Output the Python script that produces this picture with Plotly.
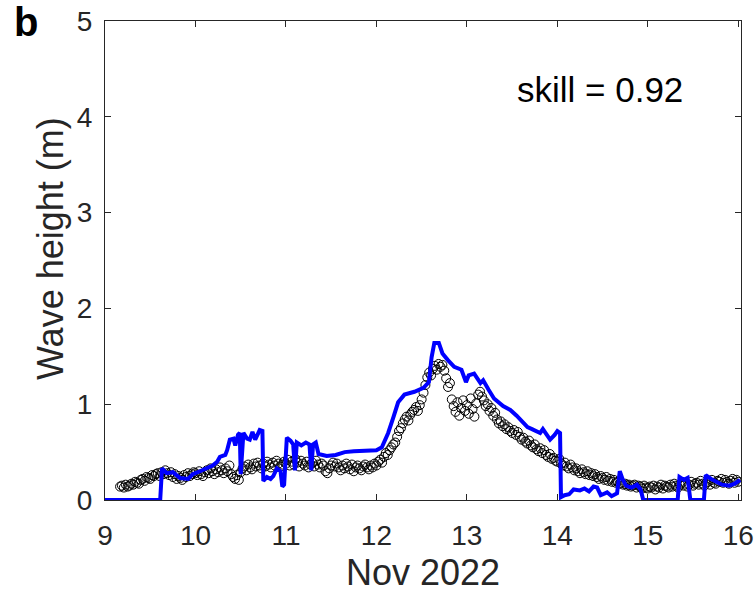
import numpy as np
import plotly.graph_objects as go

# Observed significant wave height (m), half-hourly from 9 Nov 04:00 to 16 Nov 00:00
obs_hs_nov09 = [0.14, 0.15, 0.13, 0.16, 0.14, 0.15, 0.17, 0.16, 0.19, 0.18,
                0.17, 0.21, 0.22, 0.20, 0.24, 0.23, 0.22, 0.26, 0.25, 0.27,
                0.28, 0.25, 0.29, 0.27, 0.31, 0.28, 0.26, 0.29, 0.24, 0.27,
                0.22, 0.25, 0.23, 0.21, 0.26, 0.24, 0.28, 0.25, 0.27, 0.29]
obs_hs_nov10 = [0.28, 0.26, 0.30, 0.27, 0.25, 0.29, 0.31, 0.28, 0.33, 0.30, 0.27, 0.32,
                0.29, 0.34, 0.31, 0.28, 0.33, 0.30, 0.36, 0.27, 0.24, 0.22, 0.26, 0.21,
                0.29, 0.33, 0.35, 0.31, 0.37, 0.34, 0.32, 0.38, 0.35, 0.39, 0.36, 0.33,
                0.38, 0.35, 0.40, 0.37, 0.34, 0.39, 0.36, 0.41, 0.38, 0.35, 0.37, 0.40]
obs_hs_nov11 = [0.38, 0.42, 0.36, 0.40, 0.37, 0.43, 0.39, 0.35, 0.41, 0.38, 0.36, 0.40,
                0.34, 0.37, 0.39, 0.35, 0.41, 0.37, 0.34, 0.38, 0.36, 0.30, 0.28, 0.33,
                0.36, 0.39, 0.35, 0.38, 0.34, 0.31, 0.36, 0.33, 0.38, 0.35, 0.32, 0.37,
                0.30, 0.34, 0.36, 0.33, 0.31, 0.35, 0.37, 0.34, 0.32, 0.36, 0.34, 0.38]
obs_hs_nov12 = [0.36, 0.40, 0.42, 0.39, 0.45, 0.49, 0.47, 0.52, 0.55, 0.58, 0.60, 0.66,
                0.72, 0.75, 0.80, 0.84, 0.87, 0.83, 0.89, 0.92, 0.94, 0.97, 0.93, 0.99,
                1.05, 1.12, 1.20, 1.28, 1.33, 1.30, 1.37, 1.40, 1.36, 1.42, 1.39, 1.41,
                1.35, 1.27, 1.18, 1.22, 1.05, 0.98, 0.92, 1.02, 0.88, 0.96, 1.04, 0.93]
obs_hs_nov13 = [0.99, 0.90, 1.06, 0.95, 0.87, 1.01, 1.10, 1.13, 1.08, 1.04, 0.98, 1.00,
                0.93, 0.96, 0.88, 0.91, 0.84, 0.80, 0.82, 0.77, 0.79, 0.74, 0.76, 0.72,
                0.70, 0.73, 0.68, 0.71, 0.66, 0.63, 0.65, 0.61, 0.59, 0.62, 0.57, 0.55,
                0.58, 0.53, 0.51, 0.54, 0.49, 0.52, 0.47, 0.45, 0.48, 0.43, 0.44, 0.41]
obs_hs_nov14 = [0.40, 0.43, 0.38, 0.36, 0.39, 0.35, 0.33, 0.37, 0.34, 0.31, 0.33, 0.30,
                0.28, 0.32, 0.29, 0.27, 0.30, 0.26, 0.28, 0.25, 0.27, 0.24, 0.22, 0.25,
                0.23, 0.21, 0.24, 0.20, 0.22, 0.19, 0.21, 0.18, 0.19, 0.17, 0.18, 0.16,
                0.17, 0.15, 0.16, 0.14, 0.15, 0.16, 0.13, 0.15, 0.14, 0.12, 0.15, 0.13]
obs_hs_nov15 = [0.12, 0.14, 0.13, 0.15, 0.11, 0.14, 0.13, 0.16, 0.12, 0.15, 0.14, 0.13,
                0.16, 0.14, 0.17, 0.15, 0.13, 0.16, 0.18, 0.15, 0.17, 0.14, 0.16, 0.19,
                0.15, 0.17, 0.18, 0.16, 0.20, 0.17, 0.15, 0.18, 0.19, 0.16, 0.21, 0.18,
                0.17, 0.20, 0.19, 0.22, 0.18, 0.21, 0.19, 0.17, 0.20, 0.22, 0.18, 0.21]
obs_hs_nov16 = [0.19]

obs_hs = (obs_hs_nov09 + obs_hs_nov10 + obs_hs_nov11 + obs_hs_nov12 +
          obs_hs_nov13 + obs_hs_nov14 + obs_hs_nov15 + obs_hs_nov16)
obs_day = 9 + 4 / 24 + np.arange(len(obs_hs)) / 48  # day of November 2022

# Modelled significant wave height (m) at output times (day of November 2022)
model_day = [9.00, 9.61, 9.63, 9.68, 9.75, 9.83, 9.92, 9.97, 10.05, 10.12,
             10.19, 10.24, 10.27, 10.33, 10.35, 10.38, 10.42, 10.44, 10.47, 10.49,
             10.50, 10.53, 10.57, 10.60, 10.63, 10.66, 10.71, 10.74, 10.75, 10.79,
             10.83, 10.86, 10.90, 10.94, 10.96, 10.98, 11.01, 11.05, 11.08, 11.10,
             11.12, 11.17, 11.22, 11.26, 11.28, 11.30, 11.33, 11.36, 11.45, 11.55,
             11.65, 11.75, 11.85, 11.95, 12.00, 12.06, 12.13, 12.19, 12.24, 12.31,
             12.42, 12.52, 12.58, 12.61, 12.64, 12.69, 12.73, 12.79, 12.86, 12.94,
             12.99, 13.02, 13.08, 13.15, 13.18, 13.24, 13.30, 13.40, 13.48, 13.55,
             13.59, 13.67, 13.72, 13.77, 13.81, 13.84, 13.92, 13.97, 14.00, 14.03,
             14.04, 14.08, 14.13, 14.18, 14.25, 14.30, 14.35, 14.40, 14.44, 14.48,
             14.55, 14.60, 14.66, 14.69, 14.72, 14.76, 14.82, 14.88, 14.92, 14.95,
             15.00, 15.33, 15.35, 15.40, 15.44, 15.47, 15.62, 15.64, 15.70, 15.76,
             15.82, 15.90, 15.96, 16.02]
model_hs = [0.00, 0.00, 0.33, 0.28, 0.29, 0.23, 0.22, 0.27, 0.30, 0.33,
            0.36, 0.40, 0.45, 0.47, 0.52, 0.63, 0.64, 0.57, 0.68, 0.70,
            0.27, 0.70, 0.64, 0.63, 0.71, 0.63, 0.73, 0.72, 0.20, 0.24,
            0.22, 0.25, 0.33, 0.30, 0.14, 0.16, 0.65, 0.62, 0.58, 0.31,
            0.60, 0.57, 0.60, 0.58, 0.31, 0.58, 0.60, 0.48, 0.46, 0.47,
            0.50, 0.51, 0.51, 0.51, 0.52, 0.55, 0.70, 0.87, 1.02, 1.10,
            1.13, 1.17, 1.23, 1.49, 1.64, 1.64, 1.53, 1.46, 1.39, 1.36,
            1.23, 1.30, 1.32, 1.22, 1.25, 1.15, 1.06, 0.98, 0.94, 0.88,
            0.84, 0.76, 0.74, 0.72, 0.70, 0.74, 0.63, 0.68, 0.72, 0.70,
            0.03, 0.05, 0.06, 0.11, 0.10, 0.12, 0.09, 0.14, 0.13, 0.05,
            0.08, 0.04, 0.07, 0.30, 0.22, 0.15, 0.13, 0.16, 0.11, 0.00,
            0.00, 0.00, 0.24, 0.21, 0.23, 0.00, 0.00, 0.26, 0.22, 0.19,
            0.16, 0.15, 0.17, 0.21]

day_ticks = [9, 10, 11, 12, 13, 14, 15, 16]
hs_ticks = [0, 1, 2, 3, 4, 5]
skill = 0.92

AXIS_COLOR = "#262626"
FONT = "Liberation Sans, Arial, Helvetica, sans-serif"

fig = go.Figure()
fig.add_trace(go.Scatter(
    x=obs_day, y=obs_hs, mode="markers", name="observed",
    marker=dict(symbol="circle-open", size=9, color="black", line=dict(width=1)),
))
fig.add_trace(go.Scatter(
    x=model_day, y=model_hs, mode="lines", name="model",
    line=dict(color="#0000FF", width=4),
))

axis_common = dict(
    showline=True, linecolor=AXIS_COLOR, linewidth=1, mirror="ticks",
    ticks="inside", ticklen=6, tickwidth=1, tickcolor=AXIS_COLOR,
    showgrid=False, zeroline=False, automargin=False,
    tickfont=dict(family=FONT, size=28, color=AXIS_COLOR),
)

fig.update_layout(
    width=755, height=593,
    margin=dict(l=105, r=14, t=21, b=93),
    paper_bgcolor="white", plot_bgcolor="white",
    showlegend=False,
    xaxis=dict(
        range=[9, 16.03], tickvals=day_ticks, ticktext=[str(d) for d in day_ticks],
        ticklabelstandoff=10,
        title=dict(text="Nov 2022", font=dict(family=FONT, size=36, color=AXIS_COLOR), standoff=17),
        **axis_common,
    ),
    yaxis=dict(
        range=[0, 5], tickvals=hs_ticks,
        ticklabelstandoff=6,
        **axis_common,
    ),
    annotations=[
        # y-axis label, centred slightly above the middle of the axis
        dict(text="Wave height (m)", xref="paper", yref="paper",
             x=-0.0865, y=0.526, xanchor="center", yanchor="middle", textangle=-90,
             showarrow=False, font=dict(family=FONT, size=36, color=AXIS_COLOR)),
        dict(text=f"skill = {skill:.2f}", xref="paper", yref="paper",
             x=0.778, y=0.856, xanchor="center", yanchor="middle", showarrow=False,
             font=dict(family=FONT, size=35, color="black")),
        dict(text="<b>b</b>", xref="paper", yref="paper",
             x=-0.146, y=1.049, xanchor="left", yanchor="top", showarrow=False,
             font=dict(family=FONT, size=40, color="black")),
    ],
)

fig.write_html("out.html")
